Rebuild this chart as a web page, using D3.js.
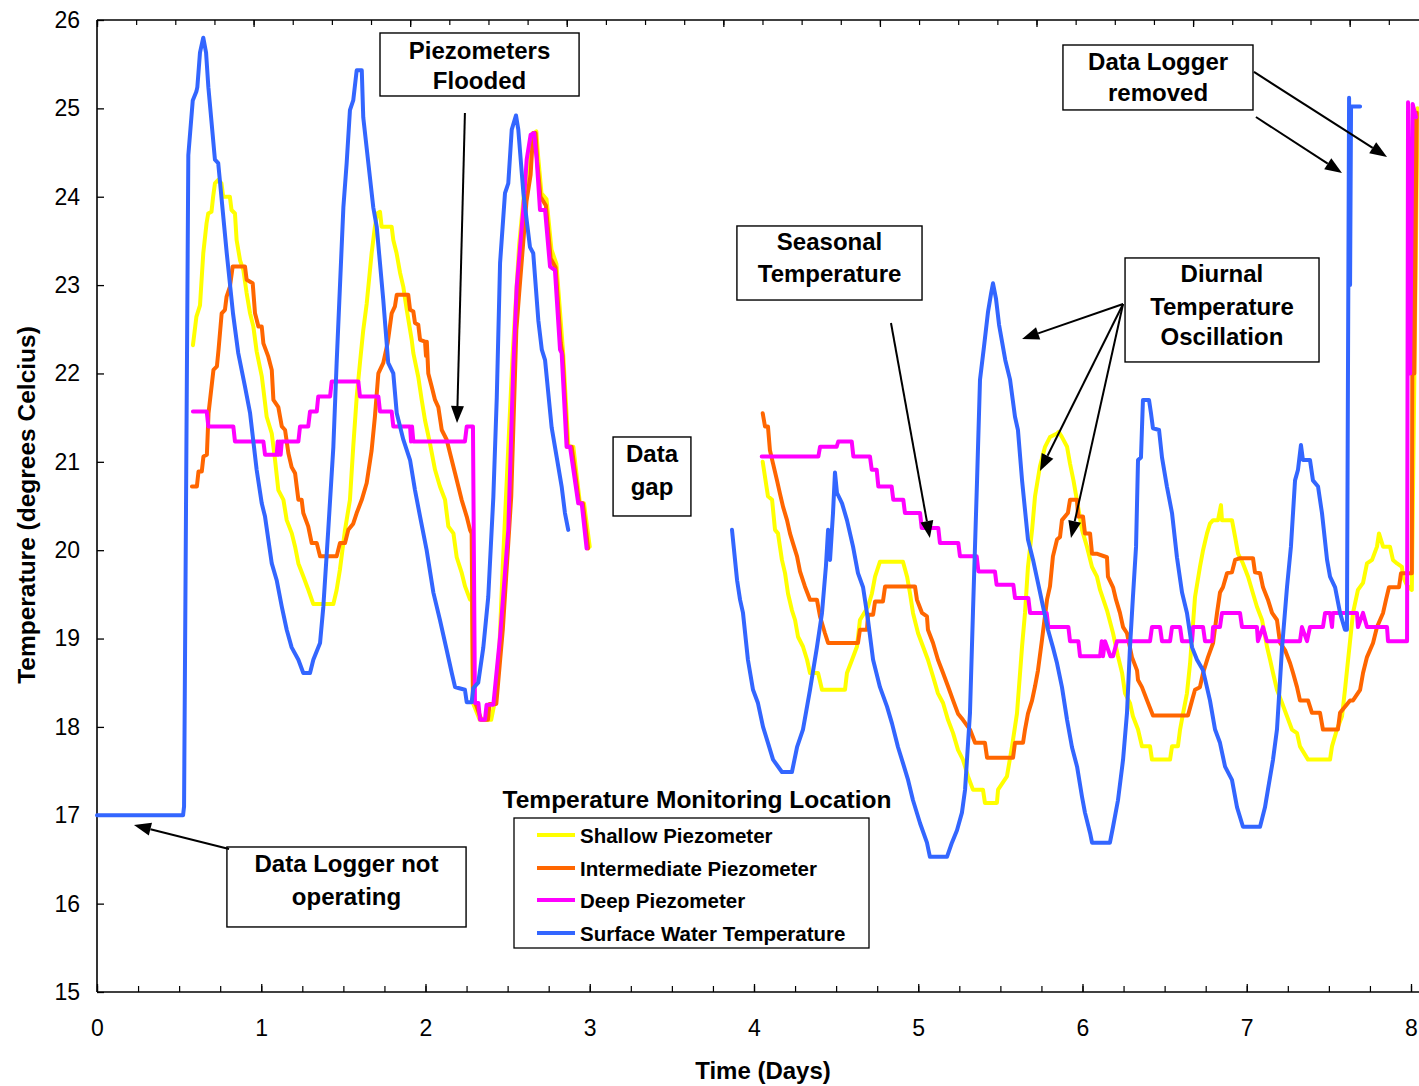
<!DOCTYPE html>
<html>
<head>
<meta charset="utf-8">
<script src="https://cdn.jsdelivr.net/npm/d3@7"></script>
<style>
  body { margin: 0; background: #fff; }
  svg { display: block; }
  text { font-family: "Liberation Sans", Arial, Helvetica, sans-serif; fill: #000; }
</style>
</head>
<body>
<svg id="chart" width="1419" height="1086"></svg>
<script>
// ---------- axis ticks ----------
const xTickValues = [0, 1, 2, 3, 4, 5, 6, 7, 8];
const yTickValues = [15, 16, 17, 18, 19, 20, 21, 22, 23, 24, 25, 26];

// ---------- series: [time (days), temperature (deg C)]; null marks a gap in the record ----------
const shallow = [
  [0.584,22.32],[0.605,22.64],[0.627,22.77],[0.647,23.36],[0.667,23.70],[0.677,23.81],[0.697,23.83],[0.707,24.00],[0.718,24.15],[0.738,24.19],[0.758,24.15],[0.768,24.00],[0.809,24.00],[0.819,23.85],[0.840,23.81],[0.850,23.51],[0.871,23.28],[0.891,23.17],[0.911,22.91],[0.932,22.68],[0.952,22.53],[0.972,22.25],[1.003,21.97],[1.013,21.82],[1.033,21.51],[1.064,21.32],[1.084,21.02],[1.104,20.68],[1.135,20.57],[1.155,20.34],[1.186,20.19],[1.206,20.04],[1.226,19.85],[1.257,19.70],[1.287,19.55],[1.317,19.39],[1.439,19.39],[1.459,19.55],[1.479,19.78],[1.510,20.23],[1.540,20.57],[1.560,21.17],[1.581,21.73],[1.601,22.12],[1.621,22.49],[1.642,22.79],[1.672,23.36],[1.692,23.66],[1.706,23.81],[1.723,23.83],[1.733,23.66],[1.794,23.66],[1.804,23.51],[1.824,23.36],[1.845,23.14],[1.865,22.98],[1.886,22.72],[1.916,22.38],[1.926,22.23],[1.956,21.96],[1.977,21.70],[1.997,21.47],[2.027,21.21],[2.058,20.91],[2.088,20.72],[2.119,20.57],[2.139,20.27],[2.170,20.19],[2.190,19.92],[2.221,19.74],[2.241,19.59],[2.271,19.44],[2.283,19.44],[2.289,18.27],[2.330,18.08],[2.400,18.08],[2.420,18.27],[2.450,18.90],[2.470,19.80],[2.500,21.00],[2.530,22.20],[2.570,23.45],[2.600,24.04],[2.615,24.20],[2.640,24.50],[2.660,24.72],[2.675,24.74],[2.685,24.47],[2.706,24.04],[2.737,23.97],[2.767,23.40],[2.797,23.24],[2.838,22.23],[2.870,21.17],[2.900,21.17],[2.940,20.53],[2.965,20.53],[3.000,20.04],
  null,
  [4.053,21.00],[4.085,20.61],[4.110,20.57],[4.128,20.23],[4.146,20.19],[4.170,19.89],[4.189,19.74],[4.207,19.51],[4.231,19.32],[4.250,19.21],[4.268,19.02],[4.298,18.91],[4.323,18.76],[4.341,18.61],[4.390,18.61],[4.414,18.42],[4.554,18.42],[4.566,18.61],[4.597,18.76],[4.627,18.91],[4.645,19.21],[4.694,19.36],[4.718,19.51],[4.737,19.70],[4.767,19.87],[4.907,19.87],[4.932,19.70],[4.950,19.51],[4.968,19.29],[4.999,19.06],[5.029,18.91],[5.059,18.76],[5.090,18.57],[5.120,18.38],[5.151,18.27],[5.181,18.08],[5.212,17.93],[5.242,17.74],[5.272,17.63],[5.303,17.44],[5.333,17.29],[5.394,17.29],[5.406,17.14],[5.479,17.14],[5.486,17.29],[5.540,17.44],[5.571,17.78],[5.601,18.15],[5.632,18.91],[5.650,19.29],[5.668,19.81],[5.693,20.23],[5.711,20.61],[5.741,20.95],[5.772,21.17],[5.802,21.28],[5.845,21.32],[5.855,21.34],[5.875,21.28],[5.906,21.17],[5.924,20.98],[5.945,20.79],[5.973,20.49],[5.997,20.23],[6.027,20.04],[6.058,19.81],[6.088,19.70],[6.107,19.55],[6.149,19.32],[6.186,19.06],[6.216,18.80],[6.241,18.61],[6.259,18.38],[6.289,18.27],[6.307,18.12],[6.338,17.97],[6.362,17.78],[6.411,17.78],[6.423,17.63],[6.533,17.63],[6.545,17.78],[6.581,17.78],[6.594,17.97],[6.612,18.15],[6.636,18.38],[6.655,18.72],[6.685,19.47],[6.715,19.81],[6.734,20.00],[6.758,20.19],[6.776,20.30],[6.795,20.34],[6.825,20.34],[6.843,20.51],[6.849,20.34],[6.910,20.34],[6.929,20.15],[6.947,19.96],[6.977,19.85],[7.008,19.70],[7.038,19.51],[7.062,19.36],[7.093,19.21],[7.123,18.91],[7.142,18.76],[7.160,18.61],[7.184,18.42],[7.215,18.27],[7.245,18.12],[7.275,17.97],[7.306,17.93],[7.324,17.78],[7.373,17.63],[7.507,17.63],[7.519,17.78],[7.549,17.97],[7.580,18.12],[7.598,18.42],[7.617,18.76],[7.647,19.29],[7.677,19.55],[7.708,19.63],[7.732,19.85],[7.763,19.89],[7.793,20.04],[7.805,20.19],[7.830,20.04],[7.872,20.04],[7.890,19.89],[7.915,19.85],[7.945,19.81],[7.951,19.70],[7.976,19.60],[8.005,19.55],[8.040,25.00]
];

const intermediate = [
  [0.578,20.72],[0.608,20.72],[0.618,20.89],[0.638,20.89],[0.648,21.06],[0.669,21.08],[0.679,21.55],[0.709,22.04],[0.730,22.08],[0.740,22.27],[0.759,22.68],[0.779,22.72],[0.789,22.87],[0.809,22.98],[0.826,23.21],[0.901,23.21],[0.911,23.06],[0.948,23.02],[0.962,22.68],[0.983,22.53],[1.003,22.53],[1.013,22.34],[1.043,22.19],[1.064,22.04],[1.074,21.70],[1.104,21.62],[1.125,21.40],[1.145,21.36],[1.165,21.10],[1.185,20.94],[1.206,20.87],[1.226,20.57],[1.246,20.57],[1.256,20.42],[1.286,20.27],[1.307,20.08],[1.338,20.08],[1.358,19.93],[1.459,19.93],[1.479,20.08],[1.510,20.08],[1.530,20.23],[1.560,20.30],[1.581,20.42],[1.612,20.57],[1.642,20.76],[1.672,21.13],[1.692,21.51],[1.713,22.00],[1.743,22.12],[1.770,22.35],[1.794,22.68],[1.814,22.76],[1.825,22.89],[1.895,22.89],[1.906,22.72],[1.926,22.70],[1.936,22.57],[1.956,22.55],[1.967,22.38],[1.997,22.36],[2.003,22.20],[2.008,22.36],[2.017,22.00],[2.038,21.85],[2.058,21.70],[2.078,21.62],[2.099,21.36],[2.129,21.25],[2.149,21.10],[2.180,20.87],[2.200,20.72],[2.220,20.57],[2.251,20.38],[2.271,20.23],[2.281,20.19],[2.289,18.35],[2.340,18.08],[2.380,18.08],[2.390,18.26],[2.431,18.26],[2.471,19.11],[2.522,20.61],[2.553,22.49],[2.570,22.90],[2.600,23.60],[2.615,23.95],[2.640,24.25],[2.655,24.72],[2.670,24.72],[2.680,24.40],[2.700,24.00],[2.733,23.90],[2.762,23.30],[2.792,23.20],[2.823,22.35],[2.835,22.20],[2.864,21.17],[2.890,21.17],[2.935,20.53],[2.958,20.53],[2.990,20.02],
  null,
  [4.053,21.55],[4.067,21.40],[4.085,21.40],[4.097,21.13],[4.116,20.98],[4.140,20.79],[4.158,20.64],[4.177,20.49],[4.201,20.34],[4.219,20.19],[4.237,20.08],[4.262,19.93],[4.280,19.76],[4.310,19.59],[4.341,19.44],[4.383,19.44],[4.402,19.25],[4.432,19.06],[4.451,18.95],[4.633,18.95],[4.645,19.10],[4.688,19.10],[4.694,19.27],[4.725,19.27],[4.737,19.42],[4.785,19.42],[4.798,19.59],[4.980,19.59],[4.992,19.44],[5.023,19.29],[5.053,19.25],[5.059,19.10],[5.090,18.95],[5.120,18.76],[5.151,18.61],[5.181,18.46],[5.212,18.30],[5.242,18.15],[5.272,18.08],[5.315,17.97],[5.346,17.82],[5.406,17.82],[5.419,17.65],[5.577,17.65],[5.589,17.82],[5.638,17.82],[5.650,17.97],[5.668,18.15],[5.693,18.30],[5.711,18.46],[5.729,18.64],[5.753,18.98],[5.784,19.44],[5.802,19.59],[5.820,19.93],[5.845,20.12],[5.863,20.15],[5.875,20.34],[5.911,20.42],[5.924,20.57],[5.967,20.57],[5.973,20.38],[6.003,20.38],[6.015,20.19],[6.046,20.19],[6.058,19.96],[6.086,19.96],[6.149,19.92],[6.155,19.70],[6.186,19.58],[6.204,19.44],[6.228,19.29],[6.247,19.13],[6.271,19.06],[6.301,18.79],[6.332,18.64],[6.338,18.53],[6.362,18.45],[6.393,18.30],[6.429,18.13],[6.642,18.13],[6.667,18.30],[6.685,18.42],[6.715,18.45],[6.734,18.61],[6.764,18.79],[6.795,18.95],[6.819,19.29],[6.837,19.52],[6.855,19.58],[6.880,19.74],[6.910,19.75],[6.929,19.89],[6.959,19.91],[7.038,19.91],[7.050,19.75],[7.081,19.74],[7.099,19.58],[7.129,19.44],[7.154,19.29],[7.184,19.21],[7.203,18.95],[7.233,18.87],[7.264,18.72],[7.282,18.61],[7.306,18.45],[7.324,18.30],[7.373,18.30],[7.397,18.16],[7.446,18.16],[7.464,17.97],[7.555,17.97],[7.568,18.16],[7.629,18.30],[7.647,18.30],[7.690,18.42],[7.708,18.61],[7.732,18.79],[7.769,18.95],[7.793,19.13],[7.830,19.29],[7.848,19.44],[7.866,19.58],[7.927,19.58],[7.939,19.74],[8.005,19.74],[8.012,25.00],[8.020,22.00],[8.035,24.95]
];

const deep = [
  [0.584,21.57],[0.668,21.57],[0.678,21.40],[0.830,21.40],[0.840,21.23],[1.013,21.23],[1.023,21.08],[1.094,21.08],[1.100,21.23],[1.106,21.08],[1.113,21.23],[1.118,21.08],[1.125,21.23],[1.226,21.23],[1.236,21.40],[1.286,21.40],[1.297,21.57],[1.338,21.57],[1.347,21.74],[1.419,21.74],[1.429,21.91],[1.591,21.91],[1.601,21.74],[1.713,21.74],[1.723,21.57],[1.794,21.57],[1.804,21.40],[1.906,21.40],[1.912,21.23],[1.918,21.40],[1.926,21.23],[2.240,21.23],[2.251,21.40],[2.289,21.40],[2.301,18.27],[2.322,18.27],[2.332,18.08],[2.362,18.08],[2.372,18.25],[2.413,18.25],[2.454,19.02],[2.504,20.23],[2.535,22.11],[2.555,22.98],[2.596,23.88],[2.616,24.42],[2.640,24.70],[2.661,24.72],[2.677,24.42],[2.697,23.85],[2.728,23.85],[2.758,23.21],[2.788,23.17],[2.819,22.27],[2.829,22.23],[2.859,21.17],[2.880,21.17],[2.930,20.53],[2.951,20.53],[2.981,20.02],
  null,
  [4.047,21.06],[4.392,21.06],[4.402,21.17],[4.503,21.17],[4.513,21.23],[4.595,21.23],[4.605,21.06],[4.706,21.06],[4.717,20.91],[4.747,20.91],[4.757,20.72],[4.838,20.72],[4.848,20.57],[4.909,20.57],[4.919,20.42],[5.011,20.42],[5.021,20.25],[5.122,20.25],[5.132,20.08],[5.244,20.08],[5.254,19.93],[5.356,19.93],[5.366,19.76],[5.467,19.76],[5.477,19.61],[5.579,19.61],[5.589,19.46],[5.670,19.46],[5.681,19.29],[5.782,19.29],[5.792,19.13],[5.914,19.13],[5.924,18.97],[5.975,18.97],[5.985,18.80],[6.107,18.80],[6.117,18.97],[6.125,18.80],[6.137,18.97],[6.170,18.80],[6.186,18.80],[6.210,18.97],[6.411,18.97],[6.423,19.13],[6.472,19.13],[6.484,18.97],[6.533,18.97],[6.545,19.13],[6.594,19.13],[6.606,18.97],[6.667,18.97],[6.673,19.13],[6.734,19.13],[6.746,18.97],[6.789,18.97],[6.795,19.13],[6.837,19.13],[6.849,19.29],[6.959,19.29],[6.971,19.13],[7.062,19.13],[7.068,18.97],[7.099,19.13],[7.123,18.97],[7.324,18.97],[7.336,19.13],[7.367,18.97],[7.385,19.13],[7.464,19.13],[7.477,19.29],[7.507,19.29],[7.519,19.13],[7.525,19.29],[7.671,19.29],[7.677,19.13],[7.708,19.29],[7.732,19.13],[7.854,19.13],[7.860,18.97],[7.976,18.97],[7.982,25.07],[7.995,22.00],[8.010,25.05],[8.030,24.90]
];

const surface = [
  [0.000,17.00],[0.524,17.00],[0.530,17.10],[0.556,24.47],[0.583,25.09],[0.605,25.19],[0.611,25.24],[0.627,25.63],[0.647,25.80],[0.664,25.63],[0.678,25.24],[0.718,24.42],[0.738,24.38],[0.790,23.36],[0.828,22.68],[0.860,22.23],[0.901,21.85],[0.932,21.55],[0.972,20.91],[1.003,20.53],[1.023,20.38],[1.064,19.85],[1.094,19.66],[1.125,19.36],[1.155,19.10],[1.185,18.90],[1.226,18.76],[1.256,18.61],[1.297,18.61],[1.317,18.76],[1.358,18.95],[1.378,19.36],[1.408,20.23],[1.439,21.17],[1.459,22.12],[1.500,23.88],[1.520,24.38],[1.540,24.98],[1.560,25.09],[1.581,25.43],[1.612,25.43],[1.621,24.90],[1.652,24.38],[1.682,23.88],[1.703,23.66],[1.743,22.83],[1.773,22.12],[1.804,22.00],[1.825,21.55],[1.865,21.25],[1.906,21.02],[1.936,20.68],[1.967,20.38],[2.007,20.00],[2.048,19.52],[2.088,19.21],[2.129,18.87],[2.160,18.61],[2.180,18.45],[2.200,18.44],[2.240,18.42],[2.251,18.28],[2.281,18.28],[2.291,18.44],[2.321,18.50],[2.352,18.90],[2.382,19.47],[2.413,20.60],[2.434,21.73],[2.454,23.25],[2.484,24.04],[2.504,24.15],[2.525,24.76],[2.551,24.92],[2.565,24.76],[2.596,24.04],[2.636,23.43],[2.656,23.36],[2.687,22.60],[2.708,22.27],[2.728,22.15],[2.768,21.39],[2.799,21.05],[2.829,20.72],[2.849,20.42],[2.869,20.23],
  null,
  [3.866,20.23],[3.897,19.66],[3.915,19.44],[3.933,19.29],[3.963,18.76],[3.994,18.42],[4.024,18.27],[4.055,18.00],[4.085,17.82],[4.116,17.63],[4.170,17.49],[4.231,17.49],[4.262,17.77],[4.298,17.97],[4.341,18.42],[4.383,18.90],[4.414,19.29],[4.438,19.82],[4.451,20.23],[4.463,19.89],[4.481,20.42],[4.493,20.88],[4.505,20.65],[4.536,20.53],[4.566,20.34],[4.603,20.04],[4.633,19.74],[4.664,19.58],[4.694,19.21],[4.725,18.76],[4.767,18.45],[4.810,18.23],[4.840,18.04],[4.877,17.77],[4.907,17.59],[4.938,17.40],[4.968,17.17],[5.011,16.91],[5.053,16.69],[5.071,16.53],[5.175,16.53],[5.205,16.69],[5.236,16.83],[5.266,17.03],[5.285,17.29],[5.315,18.16],[5.333,19.29],[5.358,20.79],[5.376,21.93],[5.400,22.30],[5.425,22.70],[5.443,22.90],[5.455,23.02],[5.473,22.85],[5.492,22.55],[5.530,22.15],[5.559,21.93],[5.589,21.51],[5.607,21.36],[5.632,20.79],[5.668,20.12],[5.699,19.89],[5.729,19.63],[5.760,19.36],[5.790,19.10],[5.820,18.90],[5.845,18.72],[5.875,18.45],[5.906,18.08],[5.936,17.77],[5.967,17.55],[5.997,17.21],[6.015,17.03],[6.046,16.80],[6.058,16.69],[6.167,16.69],[6.186,16.87],[6.216,17.17],[6.247,17.63],[6.271,18.16],[6.289,18.90],[6.307,19.47],[6.326,20.04],[6.338,21.02],[6.356,21.05],[6.368,21.70],[6.405,21.70],[6.417,21.55],[6.429,21.38],[6.466,21.36],[6.484,21.05],[6.514,20.72],[6.545,20.42],[6.575,19.92],[6.606,19.52],[6.636,19.29],[6.667,18.90],[6.697,18.76],[6.734,18.64],[6.776,18.30],[6.807,17.97],[6.837,17.82],[6.868,17.55],[6.910,17.40],[6.941,17.09],[6.977,16.87],[7.081,16.87],[7.111,17.09],[7.129,17.29],[7.160,17.63],[7.184,17.97],[7.215,18.90],[7.245,19.58],[7.269,20.04],[7.294,20.79],[7.312,20.91],[7.330,21.19],[7.342,21.02],[7.385,21.02],[7.403,20.79],[7.434,20.72],[7.458,20.42],[7.489,19.89],[7.507,19.70],[7.538,19.58],[7.568,19.29],[7.598,19.10],[7.610,19.10],[7.623,25.12],[7.629,23.00],[7.635,25.02],[7.690,25.02]
];

const seriesNames = ["Shallow Piezometer", "Intermediate Piezometer", "Deep Piezometer", "Surface Water Temperature"];
const seriesData = [shallow, intermediate, deep, surface];
const seriesColors = ["#FFFF00", "#FF6600", "#FF00FF", "#3366FF"];

// ---------- callouts (positions in days / deg C) ----------
const callouts = [
  { lines: ["Piezometers", "Flooded"], box: [1.723, 25.853, 2.935, 25.140], cx: 2.329, ly: [25.66, 25.31],
    arrows: [[2.240, 24.947, 2.192, 21.439]] },
  { lines: ["Data", "gap"], box: [3.142, 21.281, 3.616, 20.387], cx: 3.379, ly: [21.089, 20.726], arrows: [] },
  { lines: ["Seasonal", "Temperature"], box: [3.896, 23.669, 5.023, 22.831], cx: 4.460, ly: [23.488, 23.126],
    arrows: [[4.834, 22.571, 5.071, 20.138]] },
  { lines: ["Diurnal", "Temperature", "Oscillation"], box: [6.259, 23.307, 7.440, 22.130], cx: 6.849, ly: [23.126, 22.763, 22.413],
    arrows: [[6.247, 22.786, 5.632, 22.390], [6.247, 22.786, 5.741, 20.896], [6.247, 22.786, 5.930, 20.138]] },
  { lines: ["Data Logger", "removed"], box: [5.881, 25.717, 7.038, 24.982], cx: 6.460, ly: [25.525, 25.174],
    arrows: [[7.044, 25.412, 7.854, 24.450], [7.056, 24.902, 7.580, 24.269]] },
  { lines: ["Data Logger not", "operating"], box: [0.791, 16.641, 2.247, 15.736], cx: 1.519, ly: [16.449, 16.086],
    arrows: [[0.804, 16.618, 0.225, 16.890]] }
];

// ---------- layout ----------
const chartW = 1419;
const plotLeft = 97, plotRight = 1411, plotTop = 20, plotBottom = 992;
const svg = d3.select("#chart");

const x = d3.scaleLinear().domain([0, 8]).range([plotLeft, plotRight]);
const y = d3.scaleLinear().domain([15, 26]).range([plotBottom, plotTop]);
// secondary (top) axis spans the same width on a 0-8.4 scale
const xTop = d3.scaleLinear().domain([0, 8.4]).range([plotLeft, 1412.3]);

// ---------- axes ----------
const axisStroke = "#000";
const fontFamily = '"Liberation Sans", Arial, sans-serif';

// bottom minor ticks (every quarter day)
svg.append("g")
  .attr("transform", `translate(0,${plotBottom})`)
  .call(d3.axisBottom(x).tickValues(d3.range(0, 8.01, 0.25)).tickSizeInner(-6).tickSizeOuter(0).tickFormat(""))
  .call(g => g.select(".domain").remove())
  .call(g => g.selectAll("line").attr("stroke", axisStroke).attr("stroke-width", 1.2));

// bottom major ticks + labels
svg.append("g")
  .attr("transform", `translate(0,${plotBottom})`)
  .call(d3.axisBottom(x).tickValues(xTickValues).tickSizeInner(-8).tickSizeOuter(0).tickPadding(28).tickFormat(d3.format("d")))
  .call(g => g.select(".domain").remove())
  .call(g => g.selectAll("line").attr("stroke", axisStroke).attr("stroke-width", 1.3))
  .call(g => g.selectAll("text").attr("font-size", 23).attr("font-family", fontFamily).attr("fill", "#000"));

// top ticks from the secondary scale
svg.append("g")
  .attr("transform", `translate(0,${plotTop})`)
  .call(d3.axisTop(xTop).tickValues(d3.range(0, 8.4, 0.25)).tickSizeInner(-5).tickSizeOuter(0).tickFormat(""))
  .call(g => g.select(".domain").remove())
  .call(g => g.selectAll("line").attr("stroke", axisStroke).attr("stroke-width", 1.2));
svg.append("g")
  .attr("transform", `translate(0,${plotTop})`)
  .call(d3.axisTop(xTop).tickValues(d3.range(0, 8.4, 1)).tickSizeInner(-7).tickSizeOuter(0).tickFormat(""))
  .call(g => g.select(".domain").remove())
  .call(g => g.selectAll("line").attr("stroke", axisStroke).attr("stroke-width", 1.3));

// left axis
svg.append("g")
  .attr("transform", `translate(${plotLeft},0)`)
  .call(d3.axisLeft(y).tickValues(yTickValues).tickSizeInner(-7).tickSizeOuter(0).tickPadding(17).tickFormat(d3.format("d")))
  .call(g => g.select(".domain").remove())
  .call(g => g.selectAll("line").attr("stroke", axisStroke).attr("stroke-width", 1.3))
  .call(g => g.selectAll("text").attr("font-size", 23).attr("font-family", fontFamily).attr("fill", "#000"));

// frame lines: left, bottom and top (plot area runs off the right edge)
svg.append("line").attr("x1", plotLeft).attr("x2", plotLeft).attr("y1", plotTop).attr("y2", plotBottom)
  .attr("stroke", axisStroke).attr("stroke-width", 1.6);
svg.append("line").attr("x1", plotLeft).attr("x2", chartW).attr("y1", plotBottom).attr("y2", plotBottom)
  .attr("stroke", axisStroke).attr("stroke-width", 1.6);
svg.append("line").attr("x1", plotLeft).attr("x2", chartW).attr("y1", plotTop).attr("y2", plotTop)
  .attr("stroke", axisStroke).attr("stroke-width", 1.6);

// axis titles
svg.append("text")
  .attr("x", 763).attr("y", 1079)
  .attr("text-anchor", "middle").attr("font-size", 24).attr("font-weight", "bold")
  .text("Time (Days)");
svg.append("text")
  .attr("transform", "translate(35,505) rotate(-90)")
  .attr("text-anchor", "middle").attr("font-size", 24.5).attr("font-weight", "bold")
  .text("Temperature (degrees Celcius)");

// ---------- series ----------
const line = d3.line()
  .defined(d => d !== null)
  .x(d => x(d[0]))
  .y(d => y(d[1]));

svg.append("g").selectAll("path")
  .data(seriesData)
  .join("path")
  .attr("d", d => line(d))
  .attr("fill", "none")
  .attr("stroke", (d, i) => seriesColors[i])
  .attr("stroke-width", 4)
  .attr("stroke-linejoin", "round")
  .attr("stroke-linecap", "round");

// ---------- callouts ----------
function arrow(g, x1, y1, x2, y2) {
  const ang = Math.atan2(y2 - y1, x2 - x1);
  const len = 17, half = 6.5;
  const bx = x2 - len * Math.cos(ang), by = y2 - len * Math.sin(ang);
  g.append("line").attr("x1", x1).attr("y1", y1).attr("x2", bx).attr("y2", by)
    .attr("stroke", "#000").attr("stroke-width", 2);
  const px = -Math.sin(ang) * half, py = Math.cos(ang) * half;
  g.append("path")
    .attr("d", `M${x2},${y2}L${bx + px},${by + py}L${bx - px},${by - py}Z`)
    .attr("fill", "#000");
}

const callG = svg.append("g");
callouts.forEach(c => {
  const [d0, t0, d1, t1] = c.box;
  callG.append("rect")
    .attr("x", x(d0)).attr("y", y(t0))
    .attr("width", x(d1) - x(d0)).attr("height", y(t1) - y(t0))
    .attr("fill", "#fff").attr("stroke", "#000").attr("stroke-width", 1.4);
  c.lines.forEach((s, i) => {
    callG.append("text")
      .attr("x", x(c.cx)).attr("y", y(c.ly[i]) + 8.5)
      .attr("text-anchor", "middle").attr("font-size", 24).attr("font-weight", "bold")
      .text(s);
  });
  c.arrows.forEach(a => arrow(callG, x(a[0]), y(a[1]), x(a[2]), y(a[3])));
});

// ---------- legend ----------
const legend = svg.append("g");
legend.append("text")
  .attr("x", 697).attr("y", 808)
  .attr("text-anchor", "middle").attr("font-size", 24.5).attr("font-weight", "bold")
  .text("Temperature Monitoring Location");
legend.append("rect")
  .attr("x", 514).attr("y", 818).attr("width", 355).attr("height", 130)
  .attr("fill", "#fff").attr("stroke", "#000").attr("stroke-width", 1.3);
const rowY = [835, 868, 900, 933];
seriesNames.forEach((name, i) => {
  legend.append("line")
    .attr("x1", 537).attr("x2", 575).attr("y1", rowY[i]).attr("y2", rowY[i])
    .attr("stroke", seriesColors[i]).attr("stroke-width", 4);
  legend.append("text")
    .attr("x", 580).attr("y", rowY[i] + 7.5)
    .attr("font-size", 20.5).attr("font-weight", "bold")
    .text(name);
});
</script>
</body>
</html>
